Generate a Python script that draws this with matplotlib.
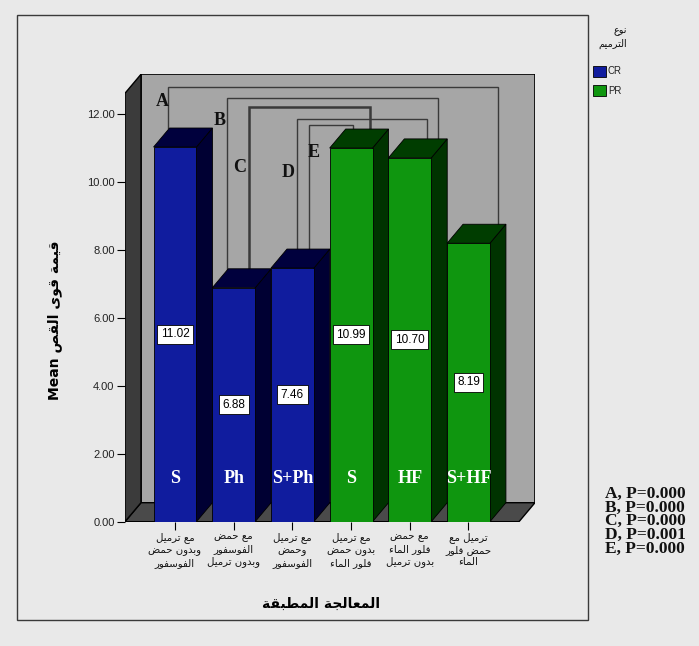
import matplotlib
matplotlib.use("Agg")
import matplotlib.pyplot as plt
from matplotlib.patches import Rectangle, Polygon

# bar data
CODES = ['S', 'Ph', 'S+Ph', 'S', 'HF', 'S+HF']
GROUPS = ['CR', 'CR', 'CR', 'PR', 'PR', 'PR']
MEANS = [11.02, 6.88, 7.46, 10.99, 10.70, 8.19]
TREATMENTS = [
    'مع ترميل\nوبدون حمض\nالفوسفور',
    'مع حمض\nالفوسفور\nوبدون ترميل',
    'مع ترميل\nوحمض\nالفوسفور',
    'مع ترميل\nبدون حمض\nفلور الماء',
    'مع حمض\nفلور الماء\nبدون ترميل',
    'ترميل مع\nحمض فلور\nالماء',
]
YTICKS = [0, 2, 4, 6, 8, 10, 12]
LEGEND_GROUPS = ['CR', 'PR']

# pairwise comparisons drawn as brackets on the back wall
PAIR_LABELS = ['A', 'B', 'C', 'D', 'E']
PAIRS = [(0, 5), (1, 4), (1, 3), (2, 4), (2, 3)]
PAIR_P = ['0.000', '0.000', '0.000', '0.001', '0.000']

FRONT = {'CR': '#101c9e', 'PR': '#0f960f'}
SIDE = {'CR': '#000033', 'PR': '#003300'}
TOP = {'CR': '#00003d', 'PR': '#003d00'}

# bracket geometry (category offsets, heights on back wall, letter spots)
BR_LEVEL = [12.23, 11.90, 11.64, 11.28, 11.10]
BR_OFF = [(-0.39, 0.23), (-0.39, 0.21), (-0.01, 0.05), (-0.19, 0.02), (0.01, -0.24)]
BR_TXT = [(-0.48, 11.79), (0.49, 11.23), (0.83, 9.87), (1.66, 9.70), (2.09, 10.30)]

# --- minimal arabic shaping (presentation forms, visual order) ---
FORMS = {
    'ء': [0xFE80],
    'ا': [0xFE8D, 0xFE8E],
    'ب': [0xFE8F, 0xFE90, 0xFE91, 0xFE92],
    'ة': [0xFE93, 0xFE94],
    'ت': [0xFE95, 0xFE96, 0xFE97, 0xFE98],
    'ج': [0xFE9D, 0xFE9E, 0xFE9F, 0xFEA0],
    'ح': [0xFEA1, 0xFEA2, 0xFEA3, 0xFEA4],
    'د': [0xFEA9, 0xFEAA],
    'ر': [0xFEAD, 0xFEAE],
    'س': [0xFEB1, 0xFEB2, 0xFEB3, 0xFEB4],
    'ص': [0xFEB9, 0xFEBA, 0xFEBB, 0xFEBC],
    'ض': [0xFEBD, 0xFEBE, 0xFEBF, 0xFEC0],
    'ط': [0xFEC1, 0xFEC2, 0xFEC3, 0xFEC4],
    'ع': [0xFEC9, 0xFECA, 0xFECB, 0xFECC],
    'ف': [0xFED1, 0xFED2, 0xFED3, 0xFED4],
    'ق': [0xFED5, 0xFED6, 0xFED7, 0xFED8],
    'ل': [0xFEDD, 0xFEDE, 0xFEDF, 0xFEE0],
    'م': [0xFEE1, 0xFEE2, 0xFEE3, 0xFEE4],
    'ن': [0xFEE5, 0xFEE6, 0xFEE7, 0xFEE8],
    'ه': [0xFEE9, 0xFEEA, 0xFEEB, 0xFEEC],
    'و': [0xFEED, 0xFEEE],
    'ى': [0xFEEF, 0xFEF0],
    'ي': [0xFEF1, 0xFEF2, 0xFEF3, 0xFEF4],
}


def shape_line(text):
    out = []
    for i, ch in enumerate(text):
        f = FORMS.get(ch)
        if f is None:
            out.append(ch)
            continue
        prev = FORMS.get(text[i - 1]) if i > 0 else None
        nxt = FORMS.get(text[i + 1]) if i + 1 < len(text) else None
        jp = len(f) > 1 and prev is not None and len(prev) == 4
        jn = len(f) == 4 and nxt is not None and len(nxt) > 1
        if jp and jn:
            c = f[3]
        elif jp:
            c = f[1]
        elif jn:
            c = f[2]
        else:
            c = f[0]
        out.append(chr(c))
    return ''.join(reversed(out))


def ar(text):
    return '\n'.join(shape_line(l) for l in text.split('\n'))


# pixel scale of the front plane
W, H = 699, 646
PX_CAT, PX_VAL = 58.7, 34.0
X0_PX, Y0_PX = 175.0, 521.7
XL, XR, YT = -0.852, 5.86, 12.6
DX, DY = 16 / PX_CAT, 19 / PX_VAL
BW = 0.73

bg = '#e9e9e9'
fig = plt.figure(figsize=(W / 100, H / 100), dpi=100, facecolor=bg)
fig.add_artist(Rectangle((17 / W, 1 - 620 / H), 571 / W, 605 / H, transform=fig.transFigure,
                         fill=False, ec='#3a3a3a', lw=1.0))

ax_left = X0_PX + XL * PX_CAT
ax_w = (XR + DX - XL) * PX_CAT
ax_h = (YT + DY) * PX_VAL
ax = fig.add_axes([ax_left / W, (H - Y0_PX) / H, ax_w / W, ax_h / H])
ax.set_xlim(XL, XR + DX)
ax.set_ylim(0, YT + DY)
ax.patch.set_visible(False)
for s in ax.spines.values():
    s.set_visible(False)

# walls and floor
ax.add_patch(Rectangle((XL + DX, DY), XR - XL, YT, fc='#a6a6a6', ec='black', lw=1.2, zorder=1))
ax.add_patch(Polygon([(XL, 0), (XL, YT), (XL + DX, YT + DY), (XL + DX, DY)],
                     closed=True, fc='#3b3b3b', ec='black', lw=1.0, zorder=1.2))
ax.add_patch(Polygon([(XL, 0), (XR, 0), (XR + DX, DY), (XL + DX, DY)],
                     closed=True, fc='#4a4a4a', ec='black', lw=1.0, zorder=1.1))

# comparison brackets
for k, (i, j) in enumerate(PAIRS):
    xa = i + BR_OFF[k][0] + DX
    xb = j + BR_OFF[k][1] + DX
    lvl = BR_LEVEL[k] + DY
    ax.plot([xa, xa, xb, xb], [MEANS[i] + DY, lvl, lvl, MEANS[j] + DY],
            color='#3a3a3a', lw=1.0 if k != 2 else 1.8, zorder=2, solid_joinstyle='miter')
    tx, ty = BR_TXT[k]
    ax.text(tx + DX, ty + DY, PAIR_LABELS[k], ha='center', va='center', fontsize=13,
            fontweight='bold', family='Liberation Serif', color='#111111', zorder=2.5)

# bars: front faces from ax.bar, then side and top faces
xs = list(range(len(MEANS)))
for i, (v, g) in enumerate(zip(MEANS, GROUPS)):
    z = 4 + i * 0.01
    l, r = i - BW / 2, i + BW / 2
    ax.add_patch(Polygon([(r, 0), (r + DX, DY), (r + DX, v + DY), (r, v)], closed=True,
                         fc=SIDE[g], ec='black', lw=0.6, zorder=z))
    ax.add_patch(Polygon([(l, v), (r, v), (r + DX, v + DY), (l + DX, v + DY)], closed=True,
                         fc=TOP[g], ec='black', lw=0.6, zorder=z))
    ax.bar(i, v, width=BW, color=FRONT[g], edgecolor='black', lw=0.6, zorder=z + 0.005)
    ax.text(i, v / 2, f'{v:.2f}', ha='center', va='center', fontsize=8.5,
            family='Liberation Sans', zorder=10,
            bbox=dict(boxstyle='square,pad=0.3', fc='white', ec='black', lw=0.6))
    ax.text(i, 1.28, CODES[i], ha='center', va='center', fontsize=13, fontweight='bold',
            family='Liberation Serif', color='white', zorder=10)

# axes ticks and labels
ax.set_yticks(YTICKS)
ax.set_yticklabels([f'{t:.2f}' for t in YTICKS], fontsize=8, family='Liberation Sans', color='#222222')
ax.set_xticks(xs)
ax.set_xticklabels([ar(t) for t in TREATMENTS], fontsize=7.3, family='DejaVu Sans',
                   linespacing=1.25, color='#111111')
ax.tick_params(axis='y', direction='out', length=6, width=0.8, pad=1.5)
ax.tick_params(axis='x', direction='out', length=5.5, width=0.8, pad=2)

ax.set_ylabel('Mean ' + ar('قيمة قوى القص'), fontsize=10, fontweight='bold', family='DejaVu Sans')
ax.yaxis.set_label_coords((62 - ax_left) / ax_w, (Y0_PX - 320) / ax_h)
ax.set_xlabel(ar('المعالجة المطبقة'), fontsize=10, fontweight='bold', family='DejaVu Sans')
ax.xaxis.set_label_coords((321 - ax_left) / ax_w, (Y0_PX - 597) / ax_h)

# legend: title plus two colour swatches
fig.text(627 / W, 1 - 26 / H, ar('نوع\nالترميم'), ha='right', va='top', fontsize=7,
         family='DejaVu Sans', linespacing=1.35, multialignment='right', color='#111111')
for n, g in enumerate(LEGEND_GROUPS):
    y_top = 66 + n * 19
    fig.add_artist(Rectangle((593 / W, 1 - (y_top + 11) / H), 13 / W, 11 / H,
                             transform=fig.transFigure, fc=FRONT[g], ec='black', lw=0.6))
    fig.text(608 / W, 1 - (y_top + 5.5) / H, g, ha='left', va='center', fontsize=7,
             family='Liberation Sans', color='#222222')

# p values
fig.text(605 / W, 1 - 486 / H,
         '\n'.join(f'{a}, P={p}' for a, p in zip(PAIR_LABELS, PAIR_P)),
         ha='left', va='top', fontsize=12.5, fontweight='bold', family='Liberation Serif',
         linespacing=0.8, color='#111111')

fig.savefig('out.png', dpi=100, facecolor=bg)
